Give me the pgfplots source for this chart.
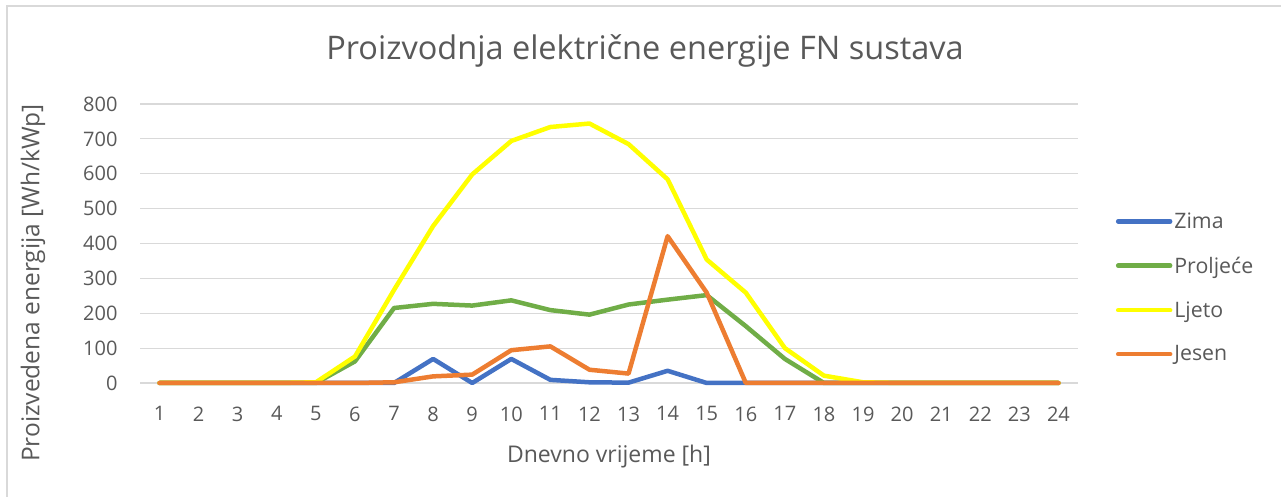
\documentclass[border=0pt]{standalone}
\usepackage{pgfplots}
\pgfplotsset{compat=1.18}
\usepackage{fontspec}
\setmainfont{Open Sans}
\definecolor{txt}{HTML}{595959}
\definecolor{gridc}{HTML}{D9D9D9}
\definecolor{cZima}{HTML}{4472C4}
\definecolor{cProl}{HTML}{70AD47}
\definecolor{cLjeto}{HTML}{FFFF00}
\definecolor{cJesen}{HTML}{ED7D31}
\begin{document}
\begin{tikzpicture}[x=1pt,y=1pt]
\useasboundingbox (0,0) rectangle (1281,497);
\draw[gridc, line width=1.2pt] (7,0) -- (7,491) -- (1281,491);
\node[txt, font=\fontsize{32.5}{38}\selectfont] at (645,446) {Proizvodnja električne energije FN sustava};
\node[txt, rotate=90, font=\fontsize{24.5}{29}\selectfont] at (33,214) {Proizvedena energija [Wh/kWp]};
\node[txt, font=\fontsize{23}{27}\selectfont] at (609,40) {Dnevno vrijeme [h]};
\begin{axis}[
  at={(140pt,114pt)}, anchor=south west,
  width=938pt, height=279pt, scale only axis,
  xmin=0.5, xmax=24.5, ymin=0, ymax=800,
  xtick={1,...,24}, ytick={0,100,...,800},
  axis line style={draw=none},
  major tick length=0pt,
  ymajorgrids, grid style={gridc, line width=1.2pt},
  tick label style={txt, font=\fontsize{20}{24}\selectfont},
  /pgf/number format/assume math mode=true,
  xticklabel style={yshift=-20pt},
  yticklabel style={xshift=-19pt},
  legend cell align=left,
  legend style={draw=none, fill=none, at={(1.037,0.342)}, anchor=west,
    font=\fontsize{21.3}{25}\selectfont, text=txt, row sep=23pt,
    /tikz/every even column/.append style={column sep=4pt}},
  legend image code/.code={\draw[#1, line width=4.5pt, line cap=round] (0pt,0pt) -- (52pt,0pt);},
  every axis plot/.append style={line width=4.5pt, line join=round, line cap=round},
  clip=false
]
\addplot[cZima] coordinates {(1,0)(2,0)(3,0)(4,0)(5,0)(6,0)(7,0)(8,69)(9,0)(10,69)(11,9)(12,2)(13,1)(14,35)(15,0)(16,0)(17,0)(18,0)(19,0)(20,0)(21,0)(22,0)(23,0)(24,0)};
\addlegendentry{Zima}
\addplot[cProl] coordinates {(1,0)(2,0)(3,0)(4,0)(5,0)(6,62)(7,215)(8,227)(9,222)(10,237)(11,209)(12,196)(13,225)(14,239)(15,252)(16,163)(17,69)(18,0)(19,0)(20,0)(21,0)(22,0)(23,0)(24,0)};
\addlegendentry{Proljeće}
\addplot[cLjeto] coordinates {(1,0)(2,0)(3,0)(4,0)(5,2)(6,76)(7,267)(8,450)(9,598)(10,694)(11,734)(12,744)(13,685)(14,584)(15,354)(16,259)(17,100)(18,21)(19,2)(20,0)(21,0)(22,0)(23,0)(24,0)};
\addlegendentry{Ljeto}
\addplot[cJesen] coordinates {(1,0)(2,0)(3,0)(4,0)(5,0)(6,0)(7,2)(8,19)(9,24)(10,94)(11,105)(12,38)(13,27)(14,421)(15,259)(16,0)(17,0)(18,0)(19,0)(20,0)(21,0)(22,0)(23,0)(24,0)};
\addlegendentry{Jesen}
\end{axis}
\end{tikzpicture}
\end{document}
